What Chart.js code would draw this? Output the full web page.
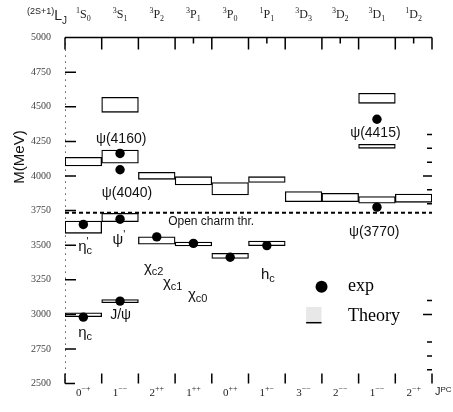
<!DOCTYPE html>
<html>
<head>
<meta charset="utf-8">
<script src="https://cdn.jsdelivr.net/npm/chart.js@4.4.1/dist/chart.umd.min.js"></script>
<style>
  html, body { margin: 0; padding: 0; background: #fff; }
  #wrap { width: 453px; height: 412px; }
</style>
</head>
<body>
<div id="wrap"><canvas id="spec"></canvas></div>
<script>
// charmonium spectrum: theory bands (boxes) and measured masses (dots), MeV

const waves = ['1S0', '3S1', '3P2', '3P1', '3P0', '1P1', '3D3', '3D2', '3D1', '1D2'];
const jpc   = ['0-+', '1--', '2++', '1++', '0++', '1+-', '3--', '2--', '1--', '2-+'];

// theory bands [low, high] per column, one array per radial level
const theory1 = [[2983, 3012], [3085, 3107], [3507, 3560], [3494, 3523], [3405, 3441], [3496, 3530], [3814, 3887], [3814, 3875], [3803, 3851], [3810, 3870]];
const theory2 = [[3586, 3675], [3670, 3730], [3976, 4027], [3935, 3995], [3863, 3952], [3954, 3995], null, null, [4200, 4229], null];
const theory3 = [[4072, 4135], [4092, 4188], null, null, null, null, null, null, [4525, 4598], null];
const theory4 = [null, [4460, 4569], null, null, null, null, null, null, null, null];

// measured states
const exp1 = [2980, 3096, 3560, 3513, 3413, 3497, null, null, 3775, null];
const exp2 = [3650, 3688, null, null, null, null, null, null, 4410, null];
const exp3 = [null, 4045, null, null, null, null, null, null, null, null];
const exp4 = [null, 4163, null, null, null, null, null, null, null, null];

const openCharm = 3735;
const rightTicks = [2600, 2700, 2800, 3000, 3100, 3800, 3900, 4000, 4100, 4200, 4300];

const SANS  = '"Liberation Sans", Arial, sans-serif';
const SERIF = '"Liberation Serif", "Times New Roman", serif';

// state labels: column units (0..10) and MeV
const notes = [
  { c: 1.53, m: 4267, al: 'center', p: [['ψ(4160)', 14, 0]] },
  { c: 1.69, m: 3877, al: 'center', p: [['ψ(4040)', 14, 0]] },
  { c: 0.36, m: 3487, al: 'left',   p: [['η', 15, 0], ["'", 11, -5, 1], ['c', 11, 4]] },
  { c: 1.47, m: 3538, al: 'center', p: [['ψ', 15, 0], ["'", 11, -5]] },
  { c: 2.15, m: 3335, al: 'left',   p: [['χ', 15, 0], ['c2', 11, 4]] },
  { c: 2.67, m: 3227, al: 'left',   p: [['χ', 15, 0], ['c1', 11, 4]] },
  { c: 3.35, m: 3140, al: 'left',   p: [['χ', 15, 0], ['c0', 11, 4]] },
  { c: 5.34, m: 3285, al: 'left',   p: [['h', 15, 0], ['c', 11, 4]] },
  { c: 0.36, m: 2866, al: 'left',   p: [['η', 15, 0], ['c', 11, 4]] },
  { c: 1.23, m: 2996, al: 'left',   p: [['J/ψ', 14, 0]] },
  { c: 7.74, m: 3596, al: 'left',   p: [['ψ(3770)', 14, 0]] },
  { c: 7.77, m: 4311, al: 'left',   p: [['ψ(4415)', 14, 0]] },
  { c: 2.81, m: 3668, al: 'left',   p: [['Open charm thr.', 12, 0]] },
];

function runs(ctx, parts, x, y, align, fam) {
  let w = 0;
  parts.forEach(p => {
    ctx.font = p[1] + 'px ' + fam;
    p.w = ctx.measureText(p[0]).width;
    if (!p[3]) w += p.w;
  });
  let cx = align === 'center' ? x - w / 2 : align === 'right' ? x - w : x;
  parts.forEach(p => {
    ctx.font = p[1] + 'px ' + fam;
    ctx.fillText(p[0], cx, y + p[2]);
    if (!p[3]) cx += p.w;
  });
}

const decor = {
  id: 'decor',
  afterDatasetsDraw(chart) {
    const { ctx, chartArea: a, scales: { y } } = chart;
    ctx.save();
    ctx.strokeStyle = '#000';
    ctx.lineWidth = 2;
    ctx.setLineDash([4, 3]);
    const yy = y.getPixelForValue(openCharm);
    ctx.beginPath(); ctx.moveTo(a.left, yy); ctx.lineTo(a.right, yy); ctx.stroke();
    ctx.restore();
  },
  afterDraw(chart) {
    const { ctx, chartArea: a, scales: { x, y } } = chart;
    const cw = (a.right - a.left) / waves.length;
    const xAt = c => a.left + c * cw;
    ctx.save();
    ctx.strokeStyle = '#000';
    ctx.fillStyle = '#000';

    // frame: top line, ticks
    ctx.lineWidth = 1.5;
    ctx.beginPath();
    ctx.moveTo(a.left, a.top); ctx.lineTo(a.right, a.top);
    for (let i = 0; i <= waves.length; i++) {
      ctx.moveTo(xAt(i), a.top); ctx.lineTo(xAt(i), a.top + 12);
      ctx.moveTo(xAt(i), a.bottom); ctx.lineTo(xAt(i), a.bottom - 10);
    }
    [3, 5, 7, 9].forEach(i => { ctx.moveTo(xAt(i + 0.5), a.top); ctx.lineTo(xAt(i + 0.5), a.top + 6); });
    ctx.moveTo(a.left, a.bottom); ctx.lineTo(a.left + 10, a.bottom);
    for (let m = 2750; m < 5000; m += 250) {
      const yy = y.getPixelForValue(m);
      ctx.moveTo(a.left, yy); ctx.lineTo(a.left + 11, yy);
    }
    rightTicks.forEach(m => {
      const yy = y.getPixelForValue(m);
      ctx.moveTo(a.right - (m % 1000 ? 5 : 9), yy); ctx.lineTo(a.right, yy);
    });
    ctx.stroke();
    ctx.lineWidth = 1;
    ctx.setLineDash([1, 5]);
    ctx.beginPath(); ctx.moveTo(a.left + 0.5, a.top); ctx.lineTo(a.left + 0.5, a.bottom); ctx.stroke();
    ctx.setLineDash([]);

    // header and footer labels
    ctx.textBaseline = 'middle';
    ctx.fillStyle = '#222';
    waves.forEach((w, i) => {
      runs(ctx, [[w[0], 8, -4], [w[1], 12, 0], [w[2], 8, 4]], x.getPixelForValue(i), 15, 'center', SERIF);
    });
    runs(ctx, [['(2S+1)', 9, -4], ['L', 14, 0], ['J', 10, 5]], 67, 16, 'right', SANS);
    jpc.forEach((j, i) => {
      runs(ctx, [[j[0], 11, 0], [j.slice(1).replace(/-/g, '\u2212'), 8, -4]], x.getPixelForValue(i), 393, 'center', SERIF);
    });
    runs(ctx, [['J', 11, 0], ['PC', 8, -2]], 435, 392, 'left', SANS);

    // axis title
    ctx.fillStyle = '#111';
    ctx.save();
    ctx.translate(20, 157);
    ctx.rotate(-Math.PI / 2);
    ctx.font = '15px ' + SANS;
    ctx.textAlign = 'center';
    ctx.fillText('M(MeV)', 0, 0);
    ctx.restore();

    // state labels
    notes.forEach(n => runs(ctx, n.p, xAt(n.c), y.getPixelForValue(n.m), n.al, SANS));

    // legend
    ctx.fillStyle = '#000';
    ctx.beginPath();
    ctx.arc(xAt(6.99), y.getPixelForValue(3199), 6, 0, Math.PI * 2);
    ctx.fill();
    const sqL = xAt(6.57), sqR = xAt(6.99), sqT = y.getPixelForValue(3054), sqB = y.getPixelForValue(2940);
    ctx.fillStyle = '#e8e8e8';
    ctx.fillRect(sqL, sqT, sqR - sqL, sqB - sqT);
    ctx.strokeStyle = '#000';
    ctx.lineWidth = 1.5;
    ctx.beginPath(); ctx.moveTo(sqL, sqB); ctx.lineTo(sqR, sqB); ctx.stroke();
    ctx.fillStyle = '#000';
    ctx.textBaseline = 'alphabetic';
    ctx.font = '18px ' + SERIF;
    ctx.fillText('exp', xAt(7.71), y.getPixelForValue(3169));
    ctx.fillText('Theory', xAt(7.71), y.getPixelForValue(2955));
    ctx.restore();
  }
};

const box = d => ({
  type: 'bar', data: d, order: 2,
  backgroundColor: '#fff', borderColor: '#000', borderWidth: 1.3, borderSkipped: false,
  grouped: false, barPercentage: 1, categoryPercentage: 1,
});
const dots = d => ({
  type: 'line', data: d, order: 1, showLine: false,
  pointRadius: 4.7, pointBackgroundColor: '#000', pointBorderWidth: 0,
});

new Chart(document.getElementById('spec'), {
  type: 'bar',
  data: {
    labels: jpc,
    datasets: [
      box(theory1), box(theory2), box(theory3), box(theory4),
      dots(exp1), dots(exp2), dots(exp3), dots(exp4),
    ]
  },
  options: {
    responsive: true,
    maintainAspectRatio: false,
    animation: false,
    layout: { padding: { top: 37.6, right: 21, bottom: 28.4, left: 0 } },
    plugins: { legend: { display: false }, tooltip: { enabled: false } },
    scales: {
      x: { display: false, offset: true },
      y: {
        min: 2500, max: 5000,
        ticks: { stepSize: 250, padding: 14, color: '#444', font: { family: SERIF, size: 10 }, callback: v => String(v) },
        grid: { display: false, drawTicks: false },
        border: { display: false },
        afterFit: s => { s.width = 65; }
      }
    }
  },
  plugins: [decor]
});
</script>
</body>
</html>
